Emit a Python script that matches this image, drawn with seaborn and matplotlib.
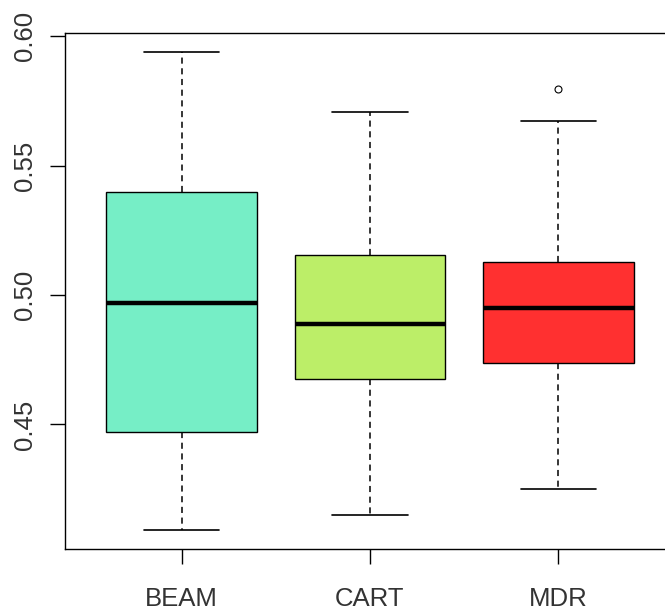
import numpy as np
import pandas as pd
import matplotlib
matplotlib.use("Agg")
import matplotlib.pyplot as plt
import seaborn as sns

# groups and values (nine values each give the box stats)
groups = ["BEAM", "CART", "MDR"]
beam = [0.4093, 0.430, 0.4471, 0.470, 0.4969, 0.520, 0.5398, 0.565, 0.5938]
cart = [0.4151, 0.445, 0.4676, 0.478, 0.4888, 0.502, 0.5154, 0.540, 0.5707]
mdr = [0.4251, 0.452, 0.4737, 0.485, 0.4950, 0.505, 0.5127, 0.5672, 0.5795]
colors = ["#76EEC6", "#BCEE68", "#FF3030"]
yticks = [0.45, 0.50, 0.55, 0.60]

df = pd.DataFrame({
    "method": ["BEAM"] * len(beam) + ["CART"] * len(cart) + ["MDR"] * len(mdr),
    "value": beam + cart + mdr,
})

sns.set_style("ticks")
plt.rcParams["font.family"] = ["Liberation Sans", "DejaVu Sans"]

fig = plt.figure(figsize=(6.65, 6.16), dpi=100)
ax = fig.add_axes([65 / 665, 67 / 616, 610 / 665, 516 / 616])

sns.boxplot(data=df, x="method", y="value", hue="method", order=groups,
            palette=colors, saturation=1, width=0.8, linecolor="black",
            linewidth=1, legend=False, ax=ax,
            whiskerprops={"linestyle": (0, (4, 3)), "linewidth": 1.1},
            capprops={"linewidth": 1.2},
            medianprops={"linewidth": 3.2, "color": "black"},
            flierprops={"marker": "o", "markersize": 5, "markerfacecolor": "white",
                        "markeredgecolor": "black", "markeredgewidth": 0.8})

# R-like axis ranges (4% padding)
lo, hi = df["value"].min(), beam[-1]
pad = (hi - lo) * 0.04
ax.set_ylim(lo - pad, hi + pad)
ax.set_xlim(-0.5 - 0.12, len(groups) - 0.5 + 0.12)

ax.set_yticks(yticks)
ax.set_yticklabels([f"{t:.2f}" for t in yticks], rotation=90, va="center")
ax.set_xlabel("")
ax.set_ylabel("")

for s in ax.spines.values():
    s.set_visible(True)
    s.set_color("black")
    s.set_linewidth(1)

ax.tick_params(axis="both", length=11, width=1, color="black", labelsize=18.5,
               labelcolor="#333333")
ax.tick_params(axis="y", pad=9)
ax.tick_params(axis="x", pad=16)
ax.tick_params(top=False, right=False)

fig.savefig("out.png", dpi=100)
